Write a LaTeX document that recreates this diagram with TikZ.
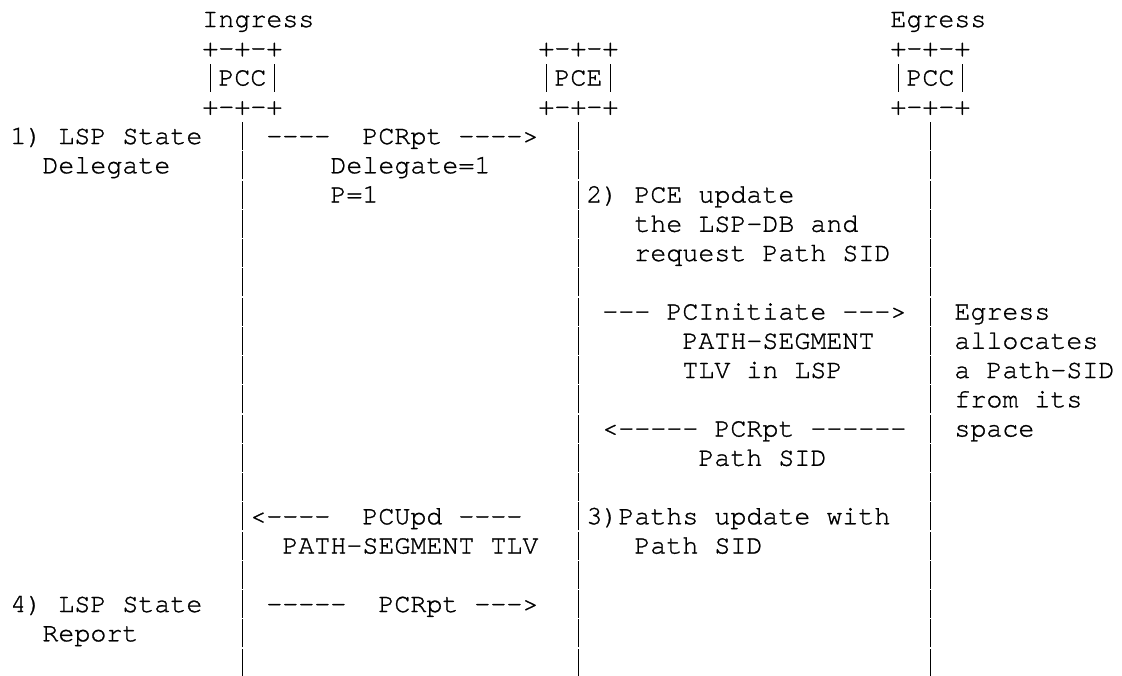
\documentclass[tikz,border=0pt]{standalone}
\usepackage{fontspec}
\setmonofont{TeX Gyre Cursor}[FakeBold=1]
% a full-height vertical stroke that fills one character cell
\newcommand\vbar{\makebox[16pt]{\rule[-6pt]{1.5pt}{27.8pt}}}
\begin{document}
\begin{tikzpicture}[x=1pt,y=1pt,
  asc/.style={anchor=base west,inner sep=0pt,outer sep=0pt,text=black,
    font=\ttfamily\fontsize{26.67}{29.25}\selectfont\frenchspacing}]
% character grid: 16pt per column, 29.25pt per row
\newcommand\seg[4]{\node[asc] (#1) at ({10.4+16*#3},{-27-29.25*(#2-1)}) {#4};}
\fill[white] (0,0) rectangle (1122,-675);
\useasboundingbox (0,0) rectangle (1122,-675);

% heads
\seg{ingress}{1}{12}{Ingress}
\seg{egress}{1}{55}{Egress}
\seg{ingTop}{2}{12}{+-+-+}
\seg{pceTop}{2}{33}{+-+-+}
\seg{egrTop}{2}{55}{+-+-+}
\seg{ingBox}{3}{12}{\vbar PCC\vbar}
\seg{pceBox}{3}{33}{\vbar PCE\vbar}
\seg{egrBox}{3}{55}{\vbar PCC\vbar}
\seg{ingBot}{4}{12}{+-+-+}
\seg{pceBot}{4}{33}{+-+-+}
\seg{egrBot}{4}{55}{+-+-+}

% lifelines
\foreach \r in {5,...,23}{
  \seg{ing-\r}{\r}{14}{\vbar}
  \seg{pce-\r}{\r}{35}{\vbar}
  \seg{egr-\r}{\r}{57}{\vbar}
}

% step 1
\seg{s1a}{5}{0}{1)~LSP~State}
\seg{s1b}{6}{2}{Delegate}
\seg{m1}{5}{16}{----~~PCRpt~---->}
\seg{m1a}{6}{20}{Delegate=1}
\seg{m1b}{7}{20}{P=1}

% step 2
\seg{s2a}{7}{36}{2)~PCE~update}
\seg{s2b}{8}{39}{the~LSP-DB~and}
\seg{s2c}{9}{39}{request~Path~SID}
\seg{m2}{11}{37}{---~PCInitiate~--->}
\seg{m2a}{12}{42}{PATH-SEGMENT}
\seg{m2b}{13}{42}{TLV~in~LSP}
\seg{e1}{11}{59}{Egress}
\seg{e2}{12}{59}{allocates}
\seg{e3}{13}{59}{a~Path-SID}
\seg{e4}{14}{59}{from~its}
\seg{e5}{15}{59}{space}
\seg{m3}{15}{37}{<-----~PCRpt~------}
\seg{m3a}{16}{43}{Path~SID}

% step 3
\seg{m4}{18}{15}{<----~~PCUpd~----}
\seg{m4a}{19}{17}{PATH-SEGMENT~TLV}
\seg{s3a}{18}{36}{3)Paths~update~with}
\seg{s3b}{19}{39}{Path~SID}

% step 4
\seg{s4a}{21}{0}{4)~LSP~State}
\seg{s4b}{22}{2}{Report}
\seg{m5}{21}{16}{-----~~PCRpt~--->}
\end{tikzpicture}
\end{document}
